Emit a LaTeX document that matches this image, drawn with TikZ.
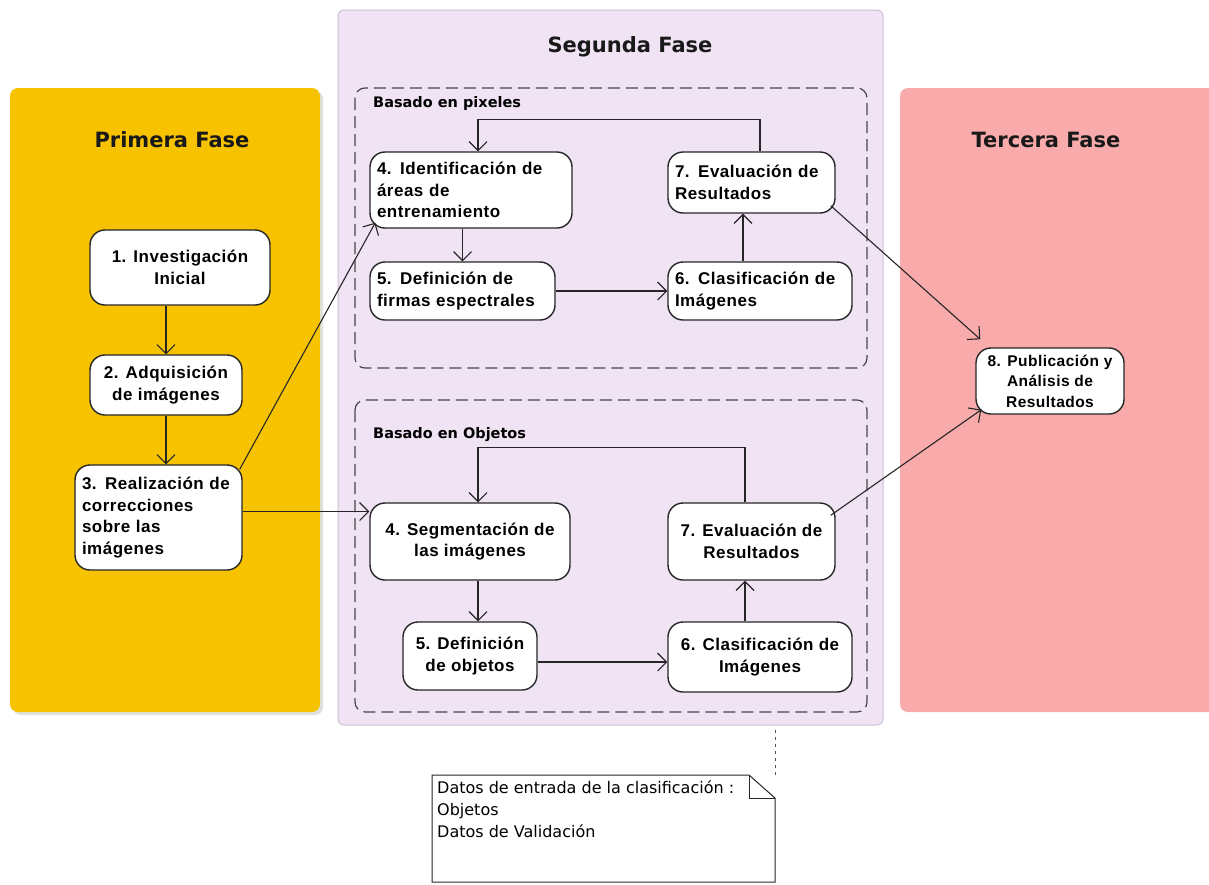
\documentclass[tikz,border=0pt]{standalone}
\usepackage{fontspec}
\setmainfont{Liberation Sans}
\newfontfamily\titlefont{DejaVu Sans}
\newfontfamily\boxfont[LetterSpace=3]{Liberation Sans}
\usetikzlibrary{arrows.meta,calc}
\definecolor{yel}{HTML}{F7C300}
\definecolor{lav}{HTML}{F0E3F4}
\definecolor{lavb}{HTML}{CDC0D6}
\definecolor{pinkf}{HTML}{F9AAAA}
\definecolor{ln}{HTML}{262626}
\tikzset{
  box/.style={draw=ln, line width=1.4pt, fill=white, rounded corners=15pt, inner sep=0pt,
    font=\boxfont\bfseries\fontsize{17}{21.5}\selectfont},
  arr/.style={draw=ln, line width=1.1pt, -{Straight Barb[length=9pt,width=18pt,line width=1.1pt]}},
  phase/.style={font=\titlefont\bfseries\fontsize{21}{24}\selectfont, text=black!90},
  group/.style={draw=ln!85, line width=1.2pt, dash pattern=on 12pt off 6pt, rounded corners=10pt},
  grouplabel/.style={font=\titlefont\bfseries\fontsize{14.5}{16}\selectfont, anchor=west, inner sep=0pt},
  notetext/.style={font=\titlefont\fontsize{16}{22}\selectfont, align=left, anchor=north west, inner sep=0pt}
}
\begin{document}
\begin{tikzpicture}[x=1pt,y=-1pt]
\useasboundingbox[fill=white] (0,0) rectangle (1209,884);
% panels
\fill[black!12, rounded corners=8pt] (13,91) rectangle (323,715);
\fill[yel, rounded corners=8pt] (10,88) rectangle (320,712);
\filldraw[fill=lav, draw=lavb, line width=1pt, rounded corners=6pt] (338,10) rectangle (883,725);
\fill[pinkf, rounded corners=8pt] (900,88) rectangle (1220,712);
\node[phase] (t1) at (172,140) {Primera Fase};
\node[phase] (t2) at (630,47) {Segunda Fase};
\node[phase] (t3) at (1046,140) {Tercera Fase};
% groups
\draw[group] (355,88) rectangle (867,368);
\draw[group] (355,400) rectangle (867,712);
\node[grouplabel] (g1) at (373,103) {Basado en pixeles};
\node[grouplabel] (g2) at (373,435) {Basado en Objetos};
% first phase
\node[box, minimum width=180pt, minimum height=75pt, align=center] (n1) at (180,267.5) {1. Investigación\\Inicial};
\node[box, minimum width=152pt, minimum height=60pt, align=center] (n2) at (166,385) {2. Adquisición\\de imágenes};
\node[box, minimum width=167pt, minimum height=105pt, text width=153pt, align=left] (n3) at (158.5,517.5) {3. Realización de\\correcciones\\sobre las\\imágenes};
% pixel based
\node[box, minimum width=202pt, minimum height=76pt, text width=188pt, align=left] (p4) at (471,190) {4. Identificación de\\áreas de\\entrenamiento};
\node[box, minimum width=185pt, minimum height=58pt, text width=171pt, align=left] (p5) at (462.5,291) {5. Definición de\\firmas espectrales};
\node[box, minimum width=184pt, minimum height=58pt, text width=170pt, align=left] (p6) at (760,291) {6. Clasificación de\\Imágenes};
\node[box, minimum width=167pt, minimum height=61pt, text width=153pt, align=left] (p7) at (751.5,182.5) {7. Evaluación de\\Resultados};
% object based
\node[box, minimum width=200pt, minimum height=77pt, align=center] (o4) at (470,541.5) {4. Segmentación de\\las imágenes};
\node[box, minimum width=134pt, minimum height=68pt, align=center] (o5) at (470,656) {5. Definición\\de objetos};
\node[box, minimum width=184pt, minimum height=70pt, align=center] (o6) at (760,657) {6. Clasificación de\\Imágenes};
\node[box, minimum width=167pt, minimum height=77pt, align=center] (o7) at (751.5,541.5) {7. Evaluación de\\Resultados};
% third phase
\node[box, minimum width=148pt, minimum height=66pt, align=center, font=\boxfont\bfseries\fontsize{15.5}{20.5}\selectfont] (n8) at (1050,381) {8. Publicación y\\Análisis de\\Resultados};
% connectors
\draw[arr] (n1.south -| n2.north) -- (n2.north);
\draw[arr] (n2.south) -- (n2.south |- n3.north);
\draw[arr] ([xshift=-3pt,yshift=-5pt]n3.north east) -- ([xshift=6pt,yshift=6pt]p4.south west);
\draw[arr] ([yshift=6pt]n3.east) -- ([yshift=6pt]n3.east -| o4.west);
\draw[arr] (p4.south -| p5.north) -- (p5.north);
\draw[arr] (p5.east) -- (p6.west);
\draw[arr] ([xshift=-17pt]p6.north) -- ([xshift=-17pt]p6.north |- p7.south);
\draw[arr] ([xshift=8.5pt]p7.north) -- ++(0,-32) -| ([xshift=7pt]p4.north);
\draw[arr] ([xshift=8pt]o4.south) -- ([xshift=8pt]o4.south |- o5.north);
\draw[arr] ([yshift=-6pt]o5.east) -- ([yshift=-6pt]o5.east -| o6.west);
\draw[arr] ([xshift=-15pt]o6.north) -- ([xshift=-15pt]o6.north |- o7.south);
\draw[arr] ([xshift=-6.5pt]o7.north) -- ++(0,-55) -| ([xshift=8pt]o4.north);
\draw[arr] ([xshift=-5pt,yshift=8pt]p7.south east) -- ([xshift=5pt,yshift=8pt]n8.north west);
\draw[arr] ([xshift=-5pt,yshift=-13pt]o7.north east) -- ([xshift=6pt,yshift=5pt]n8.south west);
% note
\coordinate (nfold) at (775,775);
\coordinate (nanchor) at (775,730);
\draw[ln, line width=1pt, fill=white] (432,775) -- (749,775) -- (775,798) -- (775,882) -- (432,882) -- cycle;
\draw[ln, line width=1pt] (749,775) -- (749,798) -- (775,798);
\draw[ln!80, line width=1pt, dash pattern=on 3pt off 4pt] (nanchor) -- (nfold);
\node[notetext] (note) at (437,780) {Datos de entrada de la clasificación :\\Objetos\\Datos de Validación};
\end{tikzpicture}
\end{document}
